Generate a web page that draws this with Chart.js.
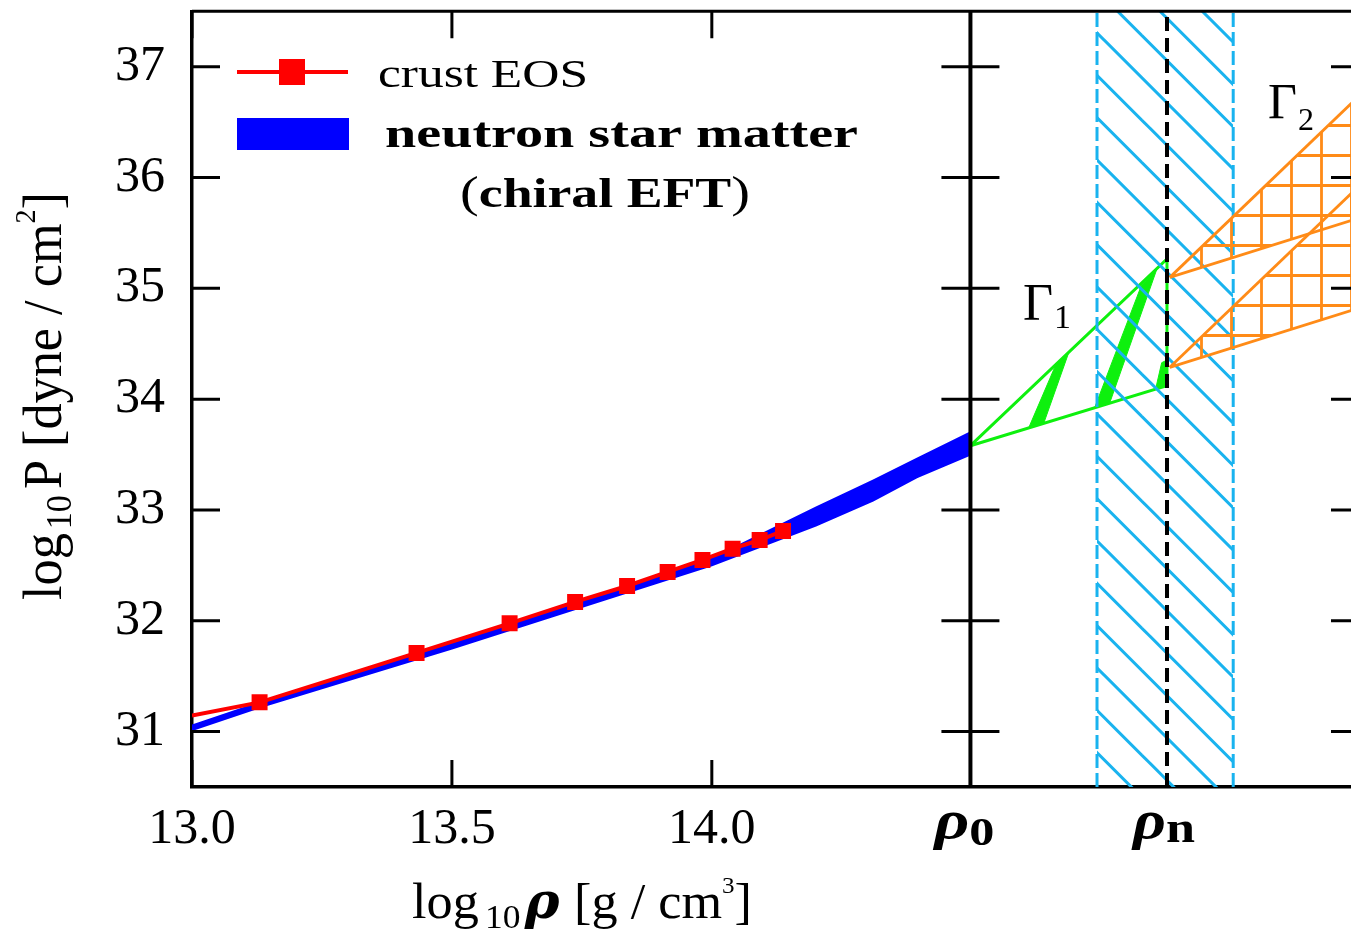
<!DOCTYPE html>
<html>
<head>
<meta charset="utf-8">
<script src="https://cdn.jsdelivr.net/npm/chart.js@4.4.0/dist/chart.umd.min.js"></script>
<style>
html, body { margin: 0; padding: 0; background: #fff; overflow: hidden; }
#wrap { width: 1372px; height: 933px; }
</style>
</head>
<body>
<div id="wrap"><canvas id="eos" width="1372" height="933"></canvas></div>
<script>
// crust EOS points (log10 rho, log10 P)
const crustRho = [13.0, 13.130, 13.432, 13.611, 13.737, 13.837, 13.915, 13.982, 14.040, 14.092, 14.137];
const crustP   = [31.144, 31.264, 31.710, 31.977, 32.170, 32.314, 32.441, 32.549, 32.651, 32.729, 32.811];

// neutron star matter band (chiral EFT)
const bandRho   = [13.0, 13.13, 13.5, 14.0, 14.2, 14.31, 14.394, 14.4975];
const bandUpper = [31.055, 31.26, 31.80, 32.56, 33.02, 33.265, 33.46, 33.70];
const bandLower = [31.015, 31.22, 31.75, 32.50, 32.86, 33.084, 33.294, 33.50];

// special densities
const rho0 = 14.4975;
const rhoN = 14.8756;
const rhoNRange = [14.741, 15.003];

// Gamma_1 region
const g1Rho = [14.4975, 14.8756, 14.8756, 14.4975];
const g1P   = [33.58, 35.265, 34.122, 33.58];
const bar1Rho = [14.6096, 14.6385, 14.6865, 14.6615, 14.6096];
const bar1P   = [33.741, 33.782, 34.419, 34.308, 33.741];
const bar2Rho = [14.7365, 14.7654, 14.8558, 14.8269, 14.7365];
const bar2P   = [33.923, 33.965, 35.169, 35.033, 33.923];
const bar3Rho = [14.8538, 14.8744, 14.8744, 14.8654, 14.8538];
const bar3P   = [34.092, 34.119, 34.350, 34.329, 34.092];

// Gamma_2 regions
const g2Rho    = [14.881, 15.245];
const g2aUpper = [35.099, 36.736];
const g2aLower = [35.099, 35.634];
const g2bUpper = [34.287, 35.924];
const g2bLower = [34.287, 34.822];

// axes
const xTicks = [13.0, 13.5, 14.0];
const yTicks = [31, 32, 33, 34, 35, 36, 37];

const BLUE = '#0000ff', RED = '#ff0000', GREEN = '#0ef00e', SKY = '#19b3ef', ORANGE = '#ff8b17';
const SERIF = '"Liberation Serif", "Times New Roman", serif';

const pts = (xs, ys) => xs.map((x, i) => ({ x: x, y: ys[i] }));

const canvas = document.getElementById('eos');
const ctx = canvas.getContext('2d');

function hatchPattern() {
    const s = 127;
    const c = document.createElement('canvas');
    c.width = s; c.height = s;
    const g = c.getContext('2d');
    g.strokeStyle = SKY;
    g.lineWidth = 3;
    for (let k = -4; k <= 4; k++) {
        const off = 36.6 + k * s / 3;
        g.beginPath();
        g.moveTo(-10, -10 + off);
        g.lineTo(s + 10, s + 10 + off);
        g.stroke();
    }
    return ctx.createPattern(c, 'repeat');
}

function gridPattern() {
    const s = 30;
    const c = document.createElement('canvas');
    c.width = s; c.height = s;
    const g = c.getContext('2d');
    g.strokeStyle = ORANGE;
    g.lineWidth = 2.8;
    g.beginPath();
    g.moveTo(1.5, 0); g.lineTo(1.5, s);
    g.moveTo(0, 5.5); g.lineTo(s, 5.5);
    g.stroke();
    return ctx.createPattern(c, 'repeat');
}

// rich text: parts = [text, font, dy, extra gap]
function rich(c, parts, x, y, opt) {
    c.save();
    c.translate(x, y);
    if (opt.rot) c.rotate(opt.rot);
    let w = 0;
    for (const p of parts) {
        c.font = p[1];
        w += c.measureText(p[0]).width + (p[3] || 0);
    }
    const sx = opt.width ? opt.width / w : 1;
    c.scale(sx, opt.sy || 1);
    let cx = opt.align === 'center' ? -w / 2 : 0;
    c.fillStyle = '#000';
    c.textAlign = 'left';
    c.textBaseline = 'alphabetic';
    for (const p of parts) {
        c.font = p[1];
        c.fillText(p[0], cx, p[2] || 0);
        cx += c.measureText(p[0]).width + (p[3] || 0);
    }
    c.restore();
}

const frame = {
    id: 'frame',
    afterDatasetsDraw(chart) {
        const c = chart.ctx, a = chart.chartArea;
        const x = chart.scales.x, y = chart.scales.y;
        c.save();
        c.strokeStyle = '#000';
        c.lineWidth = 3;
        c.beginPath();
        c.moveTo(a.left, a.top); c.lineTo(a.right, a.top);
        const x0 = x.getPixelForValue(rho0);
        yTicks.forEach(v => {
            const py = y.getPixelForValue(v);
            c.moveTo(a.left, py); c.lineTo(a.left + 28, py);
            c.moveTo(x0 - 29, py); c.lineTo(x0 + 29, py);
            c.moveTo(a.right - 28, py); c.lineTo(a.right, py);
        });
        xTicks.forEach(v => {
            const px = x.getPixelForValue(v);
            c.moveTo(px, a.bottom); c.lineTo(px, a.bottom - 27);
            c.moveTo(px, a.top); c.lineTo(px, a.top + 27);
        });
        c.stroke();
        c.restore();
    }
};

const labels = {
    id: 'labels',
    afterDraw(chart) {
        const c = chart.ctx;
        const x = chart.scales.x;

        // legend
        c.save();
        c.strokeStyle = RED; c.lineWidth = 4;
        c.beginPath(); c.moveTo(237, 72); c.lineTo(348, 72); c.stroke();
        c.fillStyle = RED; c.fillRect(279, 59, 26, 26);
        c.fillStyle = BLUE; c.fillRect(237, 118, 112, 32);
        c.restore();
        rich(c, [['crust EOS', '40px ' + SERIF]], 378, 87, { width: 210 });
        rich(c, [['neutron star matter', 'bold 42px ' + SERIF]], 385, 147, { width: 473 });
        rich(c, [['(', '44px ' + SERIF], ['chiral EFT', 'bold 42px ' + SERIF], [')', '44px ' + SERIF]], 460, 207, { width: 290 });

        // axis titles
        rich(c, [['log', '50px ' + SERIF, 0, 6], ['10', '34px ' + SERIF, 10, 4],
                 ['\u03c1', 'bold italic 50px "DejaVu Serif"', 0, 14],
                 ['[g / cm', '50px ' + SERIF], ['3', '24px ' + SERIF, -25], [']', '50px ' + SERIF]],
             412, 918, { width: 340 });
        rich(c, [['log', '52px ' + SERIF, 0, 4], ['10', '34px ' + SERIF, 9, 6], ['P', '52px ' + SERIF],
                 [' [dyne / cm', '52px ' + SERIF], ['2', '28px ' + SERIF, -24], [']', '52px ' + SERIF]],
             61, 600, { width: 408, rot: -Math.PI / 2, sy: 1.07 });

        // rho labels under the axis
        rich(c, [['\u03c1', 'bold italic 54px ' + SERIF], ['0', 'bold 40px ' + SERIF, 7]],
             x.getPixelForValue(rho0) - 6, 838, { width: 60, align: 'center' });
        rich(c, [['\u03c1', 'bold italic 54px ' + SERIF], ['n', 'bold 44px ' + SERIF, 4]],
             x.getPixelForValue(rhoN) - 3, 838, { width: 62, align: 'center' });

        // Gamma labels
        rich(c, [['\u0393', '52px ' + SERIF]], 1023, 320, {});
        rich(c, [['1', '34px ' + SERIF]], 1054, 328, {});
        rich(c, [['\u0393', '50px ' + SERIF]], 1268, 118, {});
        rich(c, [['2', '32px ' + SERIF]], 1298, 130, {});
    }
};

const hatch = hatchPattern();
const grid = gridPattern();

const vline = (xv, color, width, dash, order) => ({
    data: pts([xv, xv], [30.5, 37.5]),
    borderColor: color, borderWidth: width, borderDash: dash,
    fill: false, order: order
});

const noPad = s => { s.paddingTop = 0; s.paddingBottom = 0; s.paddingLeft = 0; s.paddingRight = 0; };

new Chart(ctx, {
    type: 'line',
    data: {
        datasets: [
            { data: pts(bandRho, bandUpper), borderColor: BLUE, borderWidth: 2, backgroundColor: BLUE, fill: '+1', order: 10 },
            { data: pts(bandRho, bandLower), borderColor: BLUE, borderWidth: 2, fill: false, order: 10 },
            {
                data: pts(crustRho, crustP), borderColor: RED, borderWidth: 4,
                pointStyle: 'rect', pointRadius: crustRho.map((v, i) => i === 0 ? 0 : 11.3),
                pointBackgroundColor: RED, pointBorderWidth: 0, fill: false, order: 9
            },
            { data: pts(g1Rho, g1P), borderColor: GREEN, borderWidth: 3, fill: false, order: 8 },
            { data: pts(bar1Rho, bar1P), borderColor: GREEN, borderWidth: 1, backgroundColor: GREEN, fill: 'shape', order: 8 },
            { data: pts(bar2Rho, bar2P), borderColor: GREEN, borderWidth: 1, backgroundColor: GREEN, fill: 'shape', order: 8 },
            { data: pts(bar3Rho, bar3P), borderColor: GREEN, borderWidth: 1, backgroundColor: GREEN, fill: 'shape', order: 8 },
            { data: pts(rhoNRange, [37.5, 37.5]), borderWidth: 0, backgroundColor: hatch, fill: { value: 30.5 }, order: 7 },
            vline(rhoNRange[0], SKY, 3, [14, 5], 7),
            vline(rhoNRange[1], SKY, 3, [14, 5], 7),
            { data: pts(g2Rho, g2aUpper), borderColor: ORANGE, borderWidth: 2.8, backgroundColor: grid, fill: '+1', order: 6 },
            { data: pts(g2Rho, g2aLower), borderColor: ORANGE, borderWidth: 2.8, fill: false, order: 6 },
            { data: pts(g2Rho, g2bUpper), borderColor: ORANGE, borderWidth: 2.8, backgroundColor: grid, fill: '+1', order: 6 },
            { data: pts(g2Rho, g2bLower), borderColor: ORANGE, borderWidth: 2.8, fill: false, order: 6 },
            vline(rhoN, '#000', 4, [14, 7], 5),
            vline(rho0, '#000', 4, [], 5)
        ]
    },
    options: {
        responsive: false,
        animation: false,
        devicePixelRatio: 1,
        events: [],
        layout: { padding: { top: 10, right: 13, left: 0, bottom: 0 } },
        elements: { point: { radius: 0 }, line: { tension: 0 } },
        plugins: { legend: { display: false }, tooltip: { enabled: false } },
        scales: {
            x: {
                type: 'linear', min: 13, max: 15.245,
                afterBuildTicks: s => { s.ticks = xTicks.map(v => ({ value: v })); },
                afterFit: s => { s.height = 146; noPad(s); },
                grid: { display: false, drawTicks: false },
                border: { display: true, color: '#000', width: 3.5 },
                ticks: {
                    color: '#000', padding: 13, autoSkip: false, maxRotation: 0,
                    font: { family: 'Liberation Serif', size: 50 },
                    callback: v => Number(v).toFixed(1)
                }
            },
            y: {
                type: 'linear', min: 30.5, max: 37.5,
                afterBuildTicks: s => { s.ticks = yTicks.map(v => ({ value: v })); },
                afterFit: s => { s.width = 192; noPad(s); },
                grid: { display: false, drawTicks: false },
                border: { display: true, color: '#000', width: 3.5 },
                ticks: {
                    color: '#000', padding: 27,
                    font: { family: 'Liberation Serif', size: 50 }
                }
            }
        }
    },
    plugins: [frame, labels]
});
</script>
</body>
</html>
